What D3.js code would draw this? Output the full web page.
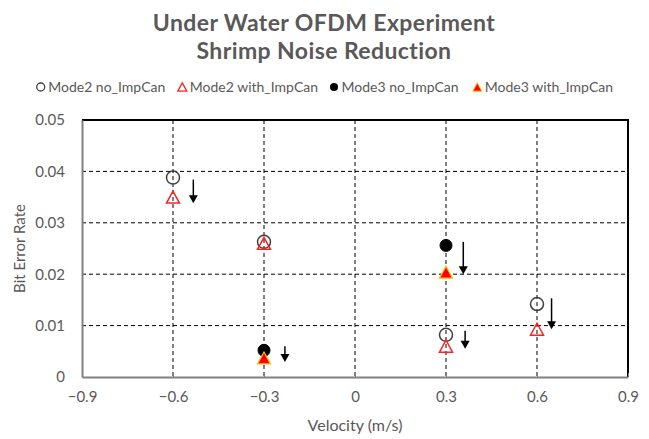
<!DOCTYPE html>
<html><head><meta charset="utf-8">
<script src="https://cdn.jsdelivr.net/npm/d3@7"></script>
<style>body{margin:0;background:#fff}svg{display:block}text{font-family:Lato,"Open Sans",sans-serif}</style>
</head><body><div id="c"></div>
<script>
const titleLines = ["Under Water OFDM Experiment", "Shrimp Noise Reduction"];
const seriesNames = ["Mode2 no_ImpCan", "Mode2 with_ImpCan", "Mode3 no_ImpCan", "Mode3 with_ImpCan"];
const mode2NoX = [-0.6, -0.3, 0.3, 0.6];
const mode2NoY = [0.0388, 0.0263, 0.0082, 0.0142];
const mode2WithX = [-0.6, -0.3, 0.3, 0.6];
const mode2WithY = [0.0350, 0.0260, 0.0060, 0.0093];
const mode3NoX = [-0.3, 0.3];
const mode3NoY = [0.0052, 0.0256];
const mode3WithX = [-0.3, 0.3];
const mode3WithY = [0.0037, 0.0204];
// annotation arrows: x, y start, y end (data units)
const arrowX = [-0.533, -0.231, 0.357, 0.363, 0.648];
const arrowY0 = [0.0384, 0.0060, 0.0263, 0.0090, 0.0153];
const arrowY1 = [0.0338, 0.0029, 0.0200, 0.0055, 0.0093];
const xTicks = [-0.9, -0.6, -0.3, 0, 0.3, 0.6, 0.9];
const yTicks = [0, 0.01, 0.02, 0.03, 0.04, 0.05];
const xTitle = "Velocity (m/s)";
const yTitle = "Bit Error Rate";

const W = 649, H = 439;
const m = {l: 82, r: 21, t: 120, b: 62};
const svg = d3.select("#c").append("svg").attr("width", W).attr("height", H);
const x = d3.scaleLinear().domain([-0.9, 0.9]).range([m.l, W - m.r]);
const y = d3.scaleLinear().domain([0, 0.05]).range([H - m.b, m.t]);
const txt = "#595959";

// title
svg.selectAll("text.title").data(titleLines).join("text").attr("class", "title")
  .attr("x", 324).attr("y", (d, i) => 31 + i * 28).attr("text-anchor", "middle")
  .attr("font-size", 23).attr("letter-spacing", 0.4).attr("font-weight", "bold").attr("fill", txt).text(d => d);

// gridlines
const g = svg.append("g");
g.selectAll("line.hg").data(yTicks.filter(v => v > 0 && v < 0.05)).join("line")
  .attr("x1", m.l).attr("x2", W - m.r).attr("y1", d => y(d)).attr("y2", d => y(d))
  .attr("stroke", "#000").attr("stroke-width", 1).attr("stroke-dasharray", "4,3");
g.selectAll("line.vg").data(xTicks.filter(v => v > -0.9 && v < 0.9)).join("line")
  .attr("x1", d => x(d)).attr("x2", d => x(d)).attr("y1", m.t).attr("y2", H - m.b)
  .attr("stroke", "#000").attr("stroke-width", 1).attr("stroke-dasharray", "4,3");

// plot border top/right
svg.append("path").attr("d", `M${m.l},${m.t}H${W - m.r}V${H - m.b}`)
  .attr("fill", "none").attr("stroke", "#000").attr("stroke-width", 2);

// axes
const xa = svg.append("g").attr("transform", `translate(0,${H - m.b})`)
  .call(d3.axisBottom(x).tickValues(xTicks).tickSize(-4).tickSizeOuter(0).tickFormat(d => d3.format("")(+d.toFixed(1))));
xa.select(".domain").attr("stroke", "#808080").attr("stroke-width", 2);
xa.selectAll(".tick line").attr("stroke", "#808080").attr("stroke-width", 1);
xa.selectAll(".tick text").attr("fill", txt).attr("font-size", 15).attr("dy", "1.1em").attr("y", 8);

const ya = svg.append("g").attr("transform", `translate(${m.l},0)`)
  .call(d3.axisLeft(y).tickValues(yTicks).tickSize(0).tickFormat(d => d === 0 ? "0" : d3.format(".2f")(d)));
ya.select(".domain").attr("stroke", "#808080").attr("stroke-width", 2);
ya.selectAll(".tick text").attr("fill", txt).attr("font-size", 15).attr("x", -17);

svg.append("text").attr("x", 355).attr("y", 431).attr("text-anchor", "middle")
  .attr("font-size", 16).attr("fill", txt).text(xTitle);
svg.append("text").attr("transform", `translate(25,${(m.t + H - m.b) / 2}) rotate(-90)`)
  .attr("text-anchor", "middle").attr("font-size", 15).attr("fill", txt).text(yTitle);

// markers
function tri(cx, cy, s) { const h = s * 0.92; return `M${cx},${cy - h / 2}L${cx + s / 2},${cy + h / 2}L${cx - s / 2},${cy + h / 2}Z`; }
const pts = (xs, ys) => xs.map((v, i) => [v, ys[i]]);
const mk = svg.append("g");
mk.selectAll("circle.m2n").data(pts(mode2NoX, mode2NoY)).join("circle")
  .attr("cx", d => x(d[0])).attr("cy", d => y(d[1])).attr("r", 6.5)
  .attr("fill", "none").attr("stroke", "#404040").attr("stroke-width", 1.5);
mk.selectAll("path.m2w").data(pts(mode2WithX, mode2WithY)).join("path")
  .attr("d", d => tri(x(d[0]), y(d[1]), 13)).attr("fill", "none").attr("stroke", "#ff2020").attr("stroke-width", 1.5);
mk.selectAll("circle.m3n").data(pts(mode3NoX, mode3NoY)).join("circle")
  .attr("cx", d => x(d[0])).attr("cy", d => y(d[1])).attr("r", 6).attr("fill", "#000").attr("stroke", "#000").attr("stroke-width", 1);
mk.selectAll("path.m3w").data(pts(mode3WithX, mode3WithY)).join("path")
  .attr("d", d => tri(x(d[0]), y(d[1]), 13)).attr("fill", "#ff0000").attr("stroke", "#ffc000").attr("stroke-width", 1.2);

// arrows
const ar = svg.append("g");
arrowX.forEach((ax, i) => {
  const px = x(ax), y0 = y(arrowY0[i]), y1 = y(arrowY1[i]);
  ar.append("line").attr("x1", px).attr("x2", px).attr("y1", y0).attr("y2", y1 - 6)
    .attr("stroke", "#000").attr("stroke-width", 1.5);
  ar.append("path").attr("d", `M${px - 4.5},${y1 - 8}L${px + 4.5},${y1 - 8}L${px},${y1}Z`).attr("fill", "#000");
});

// legend
const legX = [40.7, 182.3, 334, 477.3];
const legY = 87;
const lg = svg.append("g");
seriesNames.forEach((nm, i) => {
  const cx = legX[i];
  if (i === 0) lg.append("circle").attr("cx", cx).attr("cy", legY).attr("r", 4).attr("fill", "none").attr("stroke", "#404040").attr("stroke-width", 1.3);
  if (i === 1) lg.append("path").attr("d", tri(cx, legY, 9)).attr("fill", "none").attr("stroke", "#ff2020").attr("stroke-width", 1.3);
  if (i === 2) lg.append("circle").attr("cx", cx).attr("cy", legY).attr("r", 4).attr("fill", "#000");
  if (i === 3) lg.append("path").attr("d", tri(cx, legY, 9)).attr("fill", "#ff0000").attr("stroke", "#ffc000").attr("stroke-width", 1);
  lg.append("text").attr("x", cx + 7.5).attr("y", legY).attr("dy", "0.35em").attr("font-size", 14).attr("fill", txt).text(nm);
});
</script></body></html>
